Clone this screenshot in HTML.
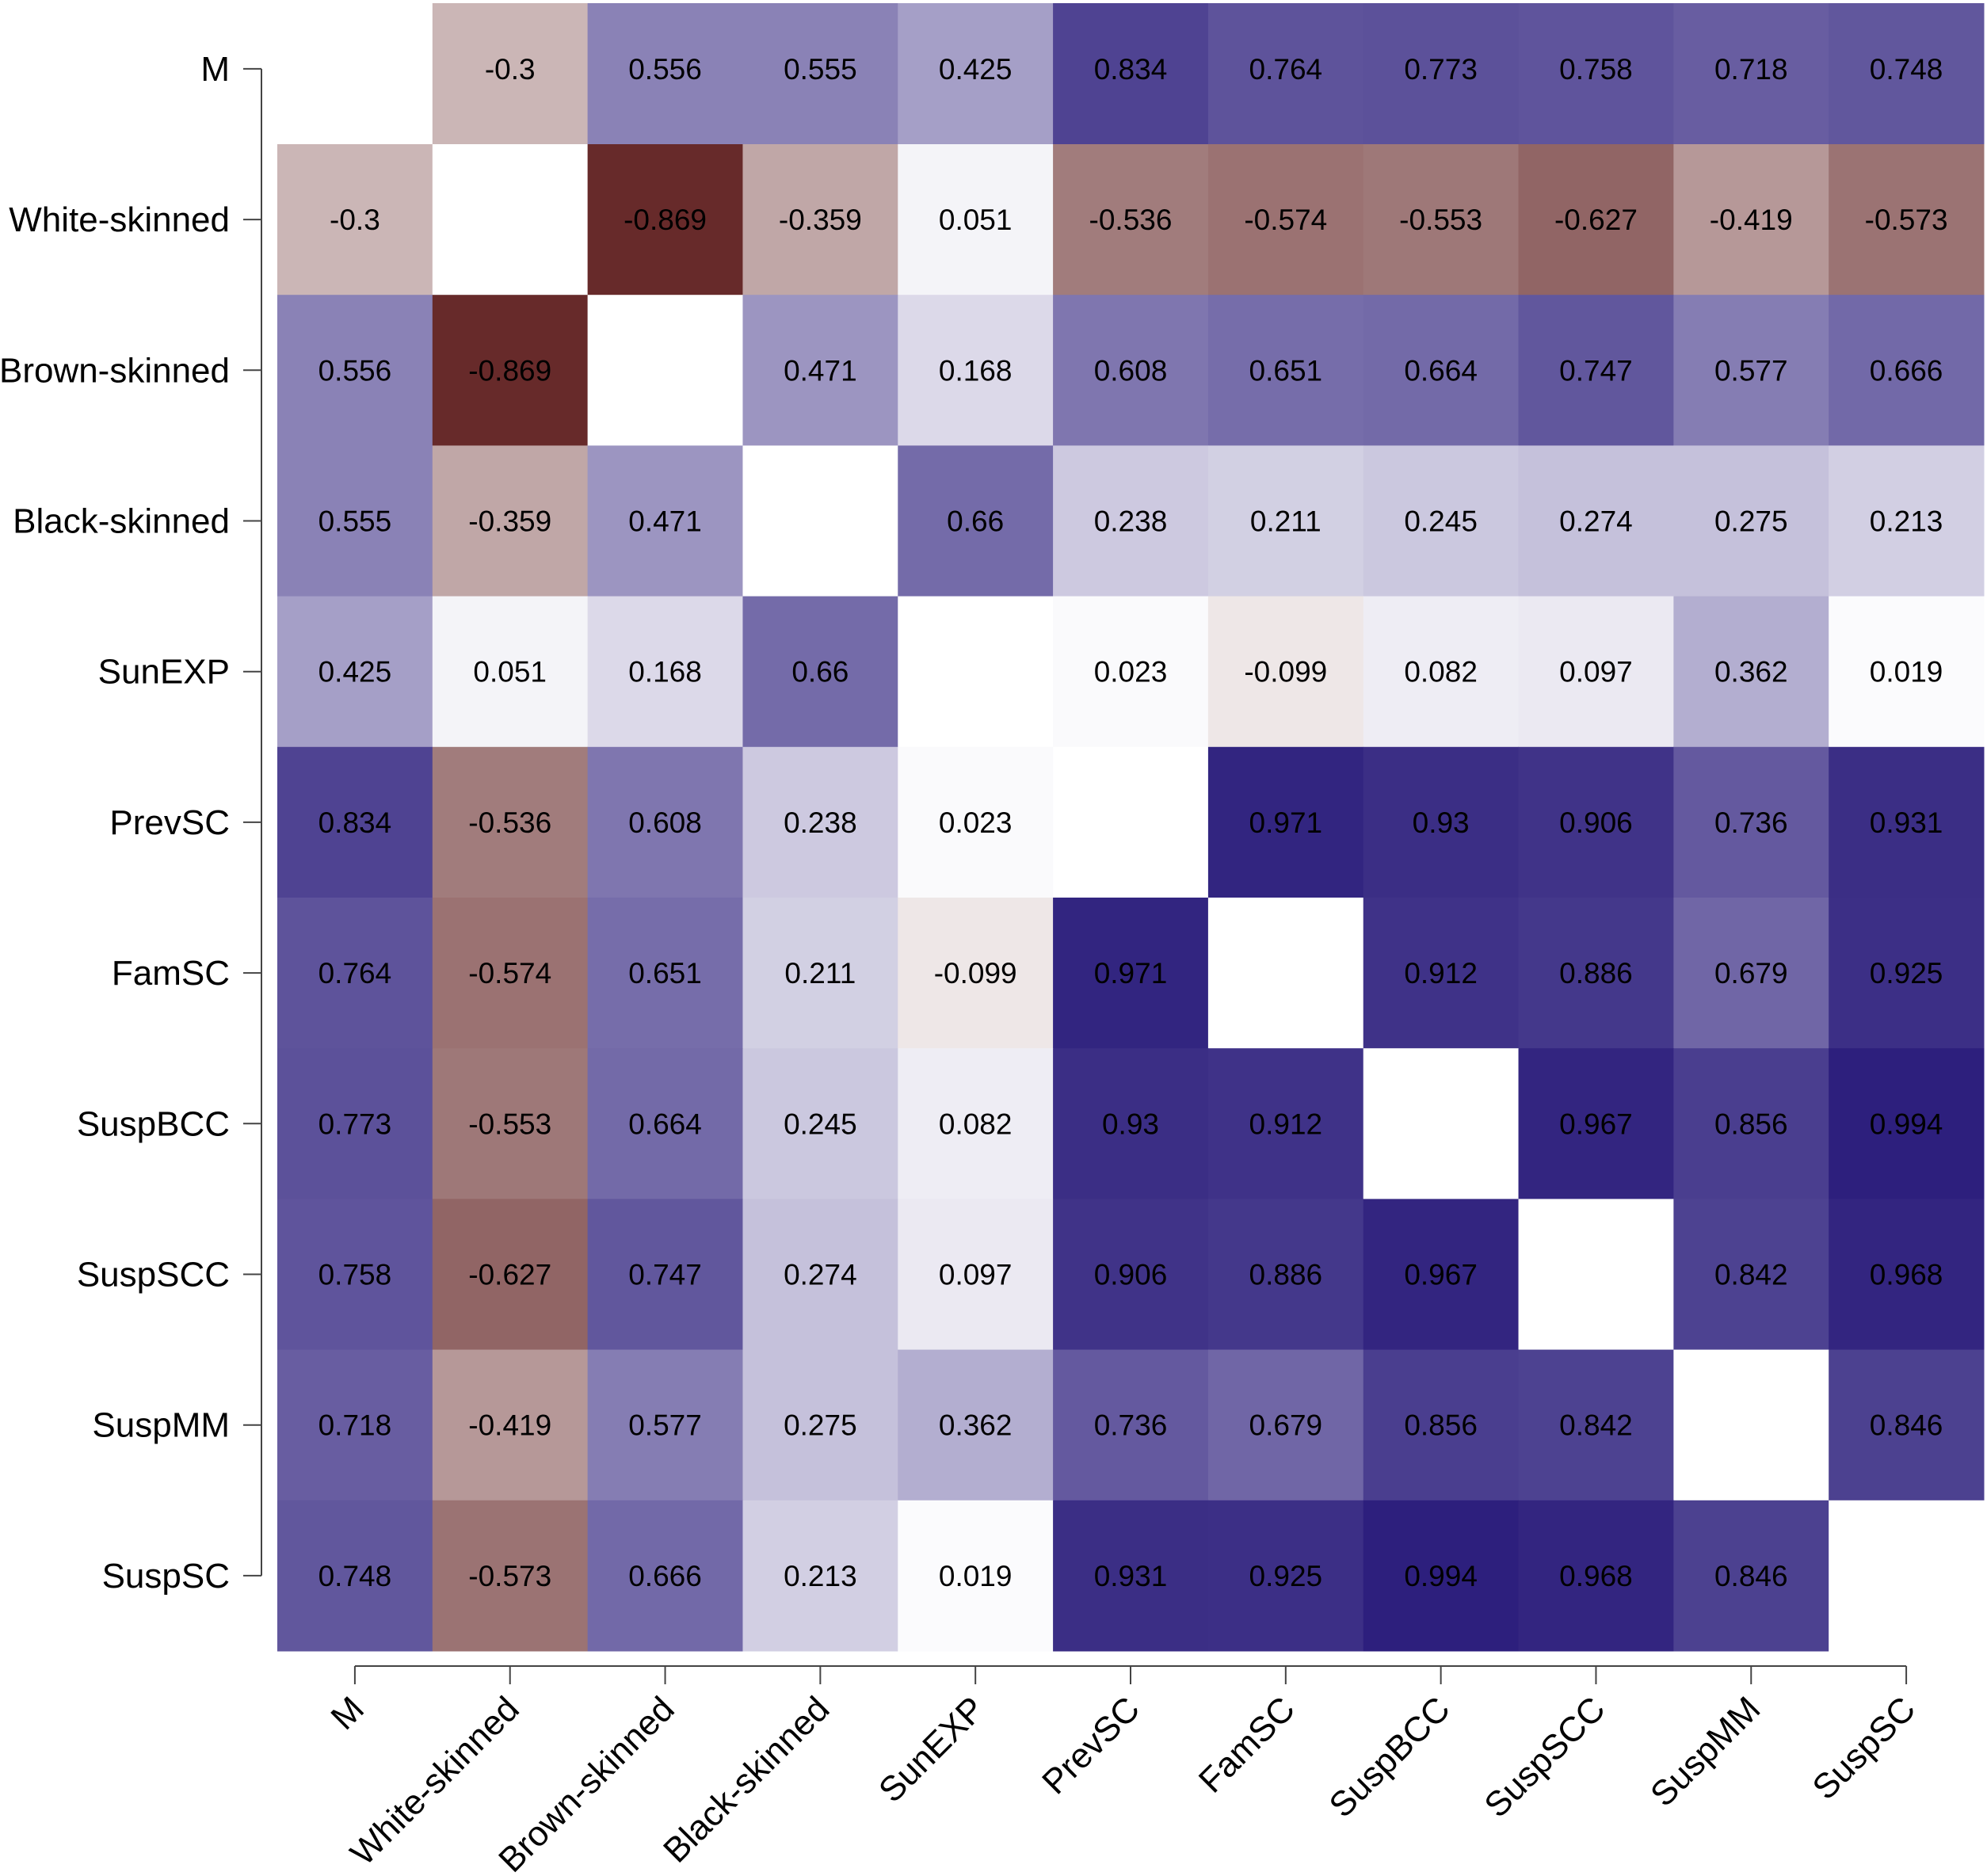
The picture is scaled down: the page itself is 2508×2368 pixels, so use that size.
<!DOCTYPE html>
<html><head><meta charset="utf-8"><style>
html,body{margin:0;padding:0;background:#fff;}
svg{display:block;font-family:"Liberation Sans",sans-serif;}
</style></head><body>
<svg id="chart" width="2508" height="2368" viewBox="0 0 2508 2368" xmlns="http://www.w3.org/2000/svg"></svg>
<script>
const labels = ["M","White-skinned","Brown-skinned","Black-skinned","SunEXP","PrevSC","FamSC","SuspBCC","SuspSCC","SuspMM","SuspSC"];
const row0 = [null,-0.3,0.556,0.555,0.425,0.834,0.764,0.773,0.758,0.718,0.748];
const row1 = [-0.3,null,-0.869,-0.359,0.051,-0.536,-0.574,-0.553,-0.627,-0.419,-0.573];
const row2 = [0.556,-0.869,null,0.471,0.168,0.608,0.651,0.664,0.747,0.577,0.666];
const row3 = [0.555,-0.359,0.471,null,0.66,0.238,0.211,0.245,0.274,0.275,0.213];
const row4 = [0.425,0.051,0.168,0.66,null,0.023,-0.099,0.082,0.097,0.362,0.019];
const row5 = [0.834,-0.536,0.608,0.238,0.023,null,0.971,0.93,0.906,0.736,0.931];
const row6 = [0.764,-0.574,0.651,0.211,-0.099,0.971,null,0.912,0.886,0.679,0.925];
const row7 = [0.773,-0.553,0.664,0.245,0.082,0.93,0.912,null,0.967,0.856,0.994];
const row8 = [0.758,-0.627,0.747,0.274,0.097,0.906,0.886,0.967,null,0.842,0.968];
const row9 = [0.718,-0.419,0.577,0.275,0.362,0.736,0.679,0.856,0.842,null,0.846];
const row10 = [0.748,-0.573,0.666,0.213,0.019,0.931,0.925,0.994,0.968,0.846,null];
const matrix = [row0,row1,row2,row3,row4,row5,row6,row7,row8,row9,row10];

const NS="http://www.w3.org/2000/svg";
const svg=document.getElementById('chart');
const left=350, right=2504, top0=4, row1Top=182, rowH=190.2;
const colW=(right-left)/labels.length;
const xPos=i=>left+i*colW;
const yPos=i=>row1Top+(i-1)*rowH;
function color(v){
  if(v===null) return "#ffffff";
  let d = v>=0 ? [44,30,124] : [80,10,10];
  const a=Math.abs(v);
  const c=d.map(x=>Math.round(255-a*(255-x)));
  return `rgb(${c[0]},${c[1]},${c[2]})`;
}
function mk(tag,attrs){const e=document.createElementNS(NS,tag);for(const k in attrs)e.setAttribute(k,attrs[k]);svg.appendChild(e);return e;}

matrix.forEach((row,r)=>{
  row.forEach((v,c)=>{
    const y0=Math.max(top0,yPos(r)), y1=yPos(r+1);
    const rect=mk('rect',{x:xPos(c),y:y0,width:colW+0.5,height:y1-y0+0.5,fill:color(v)});
    
    
    if(v!==null){
      const t=mk('text',{x:xPos(c)+colW/2,y:yPos(r)+rowH/2+13,'text-anchor':'middle','font-size':37,fill:'#000'});
      t.textContent=String(v);
      
      
    }
  });
});

const yc=i=>yPos(i)+rowH/2;
const yax=mk('line',{x1:330,x2:330,y1:yc(0),y2:yc(10),stroke:'#444','stroke-width':2});


labels.forEach((l,i)=>{
  mk('line',{x1:307,x2:330,y1:yc(i),y2:yc(i),stroke:'#444','stroke-width':2});
  const t=mk('text',{x:290,y:yc(i)+15,'text-anchor':'end','font-size':44,fill:'#000'});
  t.textContent=l;
  
  
});
const xc=i=>xPos(i)+colW/2;
const xax=mk('line',{x1:xc(0),x2:xc(10),y1:2103,y2:2103,stroke:'#444','stroke-width':2});


labels.forEach((l,i)=>{
  mk('line',{x1:xc(i),x2:xc(i),y1:2103,y2:2126,stroke:'#444','stroke-width':2});
  const t=mk('text',{x:xc(i)+14,y:2160,'text-anchor':'end','font-size':44,fill:'#000',transform:`rotate(-45 ${xc(i)+14} 2160)`});
  t.textContent=l;
  
  
});
</script>
</body></html>
